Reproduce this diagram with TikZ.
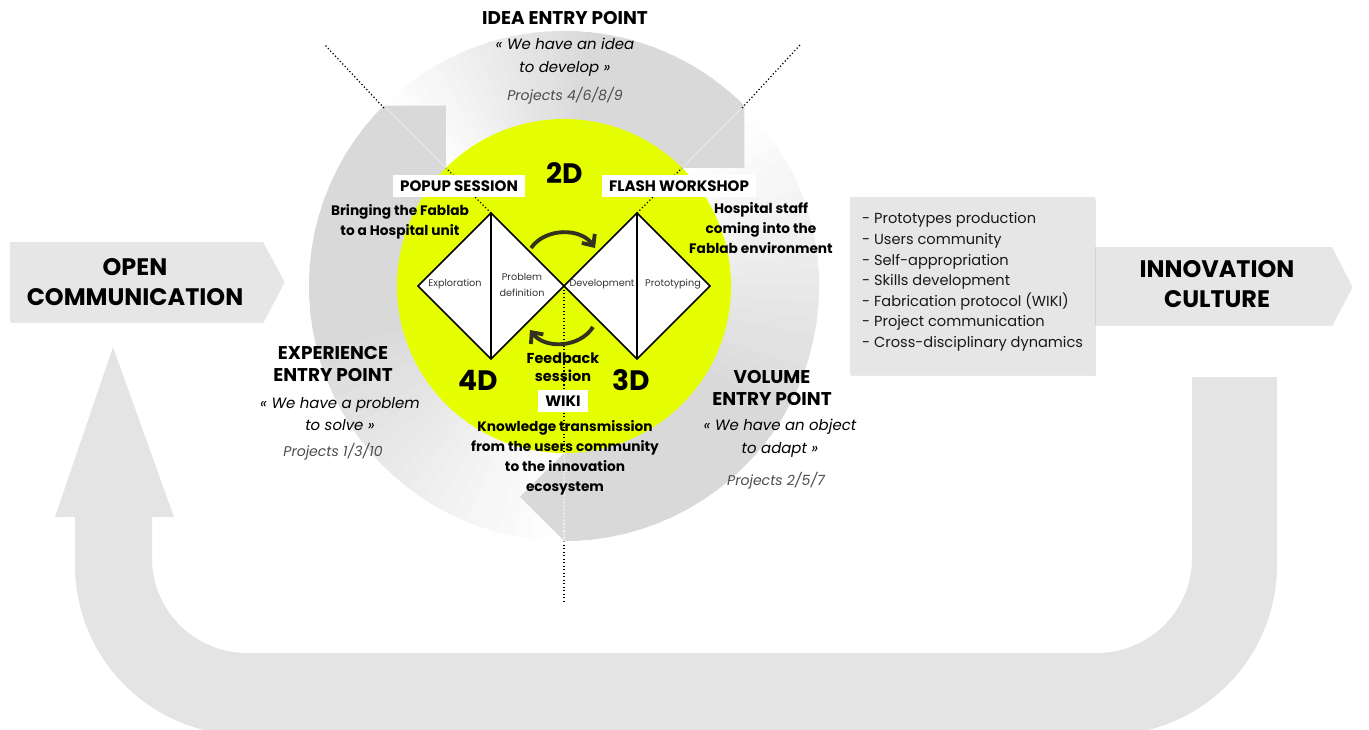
\documentclass[tikz,border=0pt]{standalone}
\usepackage{fontspec}
\setmainfont{Poppins}
\usetikzlibrary{arrows.meta,shadows}
\definecolor{ringgray}{RGB}{217,217,217}
\definecolor{boxgray}{RGB}{230,230,230}
\definecolor{ugray}{RGB}{228,228,228}
\definecolor{fablime}{RGB}{230,255,0}
\definecolor{olivedark}{RGB}{50,50,30}
\begin{document}
\begin{tikzpicture}[x=0.02cm,y=0.02cm,
	title/.style={font=\bfseries\fontsize{10.5}{12.5}\selectfont,align=center},
	quote/.style={font=\itshape\fontsize{8.5}{13}\selectfont,align=center},
	proj/.style={font=\itshape\fontsize{8}{10}\selectfont,text=black!70},
	tag/.style={fill=white,font=\bfseries\fontsize{8.6}{10}\selectfont,inner xsep=4pt,minimum height=0.44cm},
	bold/.style={font=\bfseries\fontsize{7.8}{11.3}\selectfont,align=center},
	dim/.style={font=\bfseries\fontsize{16}{18}\selectfont},
	step label/.style={font=\fontsize{5.5}{8.7}\selectfont,text=black!80,align=center,inner sep=0pt},
	headline/.style={font=\bfseries\fontsize{13.6}{17}\selectfont,align=center},
	dots/.style={line width=0.7pt,dash pattern=on 0.7pt off 1.3pt},
	soft shadow/.style={drop shadow={shadow xshift=0.3pt,shadow yshift=-1pt,opacity=0.18}}]
	\useasboundingbox (0,0) rectangle (1369,-730);
	\clip (0,0) rectangle (1369,-730);
	% big return arrow
	\fill[ugray] (1192,-377) -- (1277,-377) -- (1277,-565) arc[start angle=0,end angle=-90,radius=170]
		-- (245,-735) arc[start angle=270,end angle=180,radius=170] -- (75,-517) -- (55,-517)
		-- (113,-347) -- (174,-517) -- (152,-517) -- (152,-558) arc[start angle=180,end angle=270,radius=95]
		-- (1097,-653) arc[start angle=270,end angle=360,radius=95] -- cycle;
	% side arrows
	\fill[boxgray,soft shadow] (10,-242) -- (263,-242) -- (284,-281) -- (263,-321) -- (10,-321) -- cycle;
	\fill[boxgray,soft shadow] (1087,-247) -- (1332,-247) -- (1352,-286) -- (1332,-324) -- (1087,-324) -- cycle;
	\fill[boxgray,soft shadow] (850,-197) rectangle (1095,-374);
	% ring of three arrows
	\begin{scope}[shift={(564,-286)}]
		\foreach \a/\b in {270/135,135/45,45/-90}{
			\foreach \i in {0,...,35}{
				\pgfmathsetmacro\u{\a+(\b-\a)*\i/36}
				\pgfmathsetmacro\v{\a+(\b-\a)*min(\i+1.5,36)/36}
				\pgfmathsetmacro\p{min(100,100*\i/20)}
				\fill[ringgray!\p!white] (\u:165) arc[start angle=\u,end angle=\v,radius=165]
					-- (\v:255) arc[start angle=\v,end angle=\u,radius=255] -- cycle;
			}
		}
		\foreach \b in {135,45,-90}{
			\fill[ringgray] (\b:255) -- (\b-11.78:215.5) -- (\b:167) -- cycle;
			\draw[white,opacity=.25,line width=.5pt] (\b:167) -- (\b:255);
		}
		\fill[fablime] (0,0) circle[radius=167];
	\end{scope}
	% diamonds
	\coordinate (lw) at (418,-286);
	\coordinate (ln) at (491,-213);
	\coordinate (ls) at (491,-359);
	\coordinate (mid) at (564,-286);
	\coordinate (rn) at (637,-213);
	\coordinate (rs) at (637,-359);
	\coordinate (re) at (710,-286);
	\draw[dots] (ln) -- (446,-168) (384,-108) -- (325,-45);
	\draw[dots] (rn) -- (682,-168) (742,-108) -- (800,-45);
	\draw[dots] (mid) -- (564,-453) (564,-541) -- (564,-602);
	\draw[dots,white,opacity=.6] (564,-453) -- (564,-541);
	\draw[fill=white,line width=0.9pt,line join=miter] (lw) -- (ln) -- (mid) -- (ls) -- cycle (ln) -- (ls);
	\draw[fill=white,line width=0.9pt,line join=miter] (mid) -- (rn) -- (re) -- (rs) -- cycle (rn) -- (rs);
	\coordinate (go1) at (531,-248);
	\coordinate (go2) at (595,-248);
	\coordinate (back1) at (593,-327);
	\coordinate (back2) at (530,-330);
	\draw[olivedark,line width=2.2pt,-{Straight Barb[length=5pt,width=9pt]}] (go1) to[bend left=55] (go2);
	\draw[olivedark,line width=2.2pt,-{Straight Barb[length=5pt,width=9pt]}] (back1) to[bend left=55] (back2);
	\path
	(455,-284) node[step label] (expl) {Exploration}
	(522,-285) node[step label] (probdef) {Problem\\definition}
	(602,-284) node[step label] (devel) {Development}
	(673,-284) node[step label] (proto) {Prototyping}
	;
	% labels
	\node[title] (idea) at (565,-18) {IDEA ENTRY POINT};
	\node[quote] (ideaq) at (565,-57) {« We have an idea\\to develop »};
	\node[proj] (ideap) at (565,-96) {Projects 4/6/8/9};
	\node[dim] (d2) at (565,-173) {2D};
	\node[dim] (d4) at (478,-380) {4D};
	\node[dim] (d3) at (631,-380) {3D};
	\node[tag] (popup) at (459,-186) {POPUP SESSION};
	\node[tag] (flash) at (679,-186) {FLASH WORKSHOP};
	\node[tag] (wiki) at (563,-401) {WIKI};
	\node[bold] (bring) at (400,-222) {Bringing the Fablab\\to a Hospital unit};
	\node[bold] (staff) at (761,-228) {Hospital staff\\coming into the\\Fablab environment};
	\node[bold,font=\bfseries\fontsize{8.2}{10.2}\selectfont] (feed) at (563,-367) {Feedback\\session};
	\node[bold] (know) at (565,-458) {Knowledge transmission\\from the users community\\to the innovation\\ecosystem};
	\node[title] (exper) at (333,-364) {EXPERIENCE\\ENTRY POINT};
	\node[quote] (experq) at (340,-414) {« We have a problem\\to solve »};
	\node[proj] (experp) at (333,-452) {Projects 1/3/10};
	\node[title] (vol) at (772,-388) {VOLUME\\ENTRY POINT};
	\node[quote] (volq) at (780,-438) {« We have an object\\to adapt »};
	\node[proj] (volp) at (776,-481) {Projects 2/5/7};
	\node[headline] (open) at (135,-282) {OPEN\\COMMUNICATION};
	\node[headline] (innov) at (1217,-284) {INNOVATION\\CULTURE};
	\node[anchor=west,align=left,font=\fontsize{8.3}{11.7}\selectfont,text=black!90] (results) at (856,-282)
		{- Prototypes production\\- Users community\\- Self-appropriation\\- Skills development\\- Fabrication protocol (WIKI)\\- Project communication\\- Cross-disciplinary dynamics};
\end{tikzpicture}
\end{document}
